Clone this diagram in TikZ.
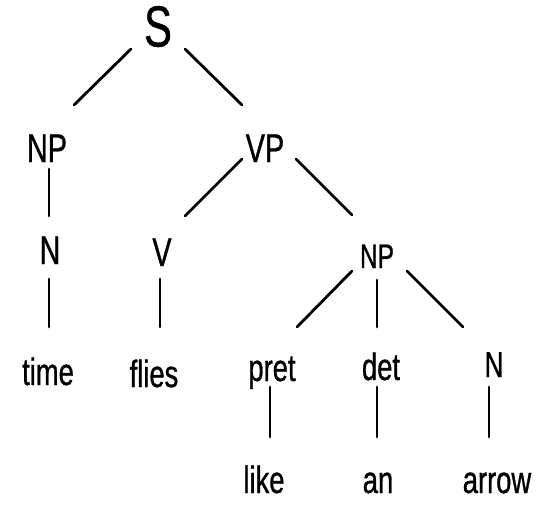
\documentclass[tikz,border=0pt]{standalone}
\usepackage{fontspec}
\newfontfamily\hand[FakeStretch=0.72,FakeBold=0.8]{Liberation Sans}
\begin{document}
\begin{tikzpicture}[x=1pt,y=-1pt,
  cat/.style={inner sep=0pt,outer sep=0pt,text depth=0pt,font=\hand\fontsize{40}{40}\selectfont,text height=28pt},
  bigcat/.style={cat,font=\hand\fontsize{58}{58}\selectfont,text height=41pt},
  word/.style={inner sep=0pt,outer sep=0pt,anchor=base,font=\hand\fontsize{38}{38}\selectfont},
  edge/.style={line width=2.8pt,line cap=round}]
\useasboundingbox (0,0) rectangle (560,511);
% categories
\node[bigcat] (S) at (158,26) {S};
\node[cat] (NP) at (47,148) {NP};
\node[cat] (VP) at (265,148) {VP};
\node[cat] (N) at (50,250) {N};
\node[cat] (V) at (162,252) {V};
\node[cat,font=\hand\fontsize{34}{34}\selectfont,text height=24pt] (NPb) at (377,256) {NP};
\node[cat,font=\hand\fontsize{36}{36}\selectfont,text height=26pt] (Nb) at (494,364) {N};
% words
\node[word] (time) at (48,385) {time};
\node[word] (flies) at (154,387) {flies};
\node[word] (pret) at (272,381) {pret};
\node[word] (det) at (381,380) {det};
\node[word] (like) at (264,493) {like};
\node[word] (an) at (378,493) {an};
\node[word] (arrow) at (497,493) {arrow};
% edges
\draw[edge] ([shift={(-27,23)}]S.center) -- ([shift={(27,-43)}]NP.center);
\draw[edge] ([shift={(27,23)}]S.center) -- ([shift={(-23,-43)}]VP.center);
\draw[edge] ([shift={(2,21)}]NP.center) -- ([shift={(-1,-34)}]N.center);
\draw[edge] ([shift={(-23,11)}]VP.center) -- ([shift={(23,-36)}]V.center);
\draw[edge] ([shift={(31,11)}]VP.center) -- ([shift={(-25,-41)}]NPb.center);
\draw[edge] ([shift={(-1,29)}]N.center) -- ([shift={(1,-58)}]time.base);
\draw[edge] ([shift={(-2,27)}]V.center) -- ([shift={(6,-60)}]flies.base);
\draw[edge] ([shift={(-25,15)}]NPb.center) -- ([shift={(25,-54)}]pret.base);
\draw[edge] ([shift={(0,24)}]NPb.center) -- ([shift={(-4,-53)}]det.base);
\draw[edge] ([shift={(30,15)}]NPb.center) -- ([shift={(-31,-37)}]Nb.center);
\draw[edge] ([shift={(-2,6)}]pret.base) -- ([shift={(6,-56)}]like.base);
\draw[edge] ([shift={(-4,7)}]det.base) -- ([shift={(-1,-56)}]an.base);
\draw[edge] ([shift={(-5,23)}]Nb.center) -- ([shift={(-8,-56)}]arrow.base);
\end{tikzpicture}
\end{document}
